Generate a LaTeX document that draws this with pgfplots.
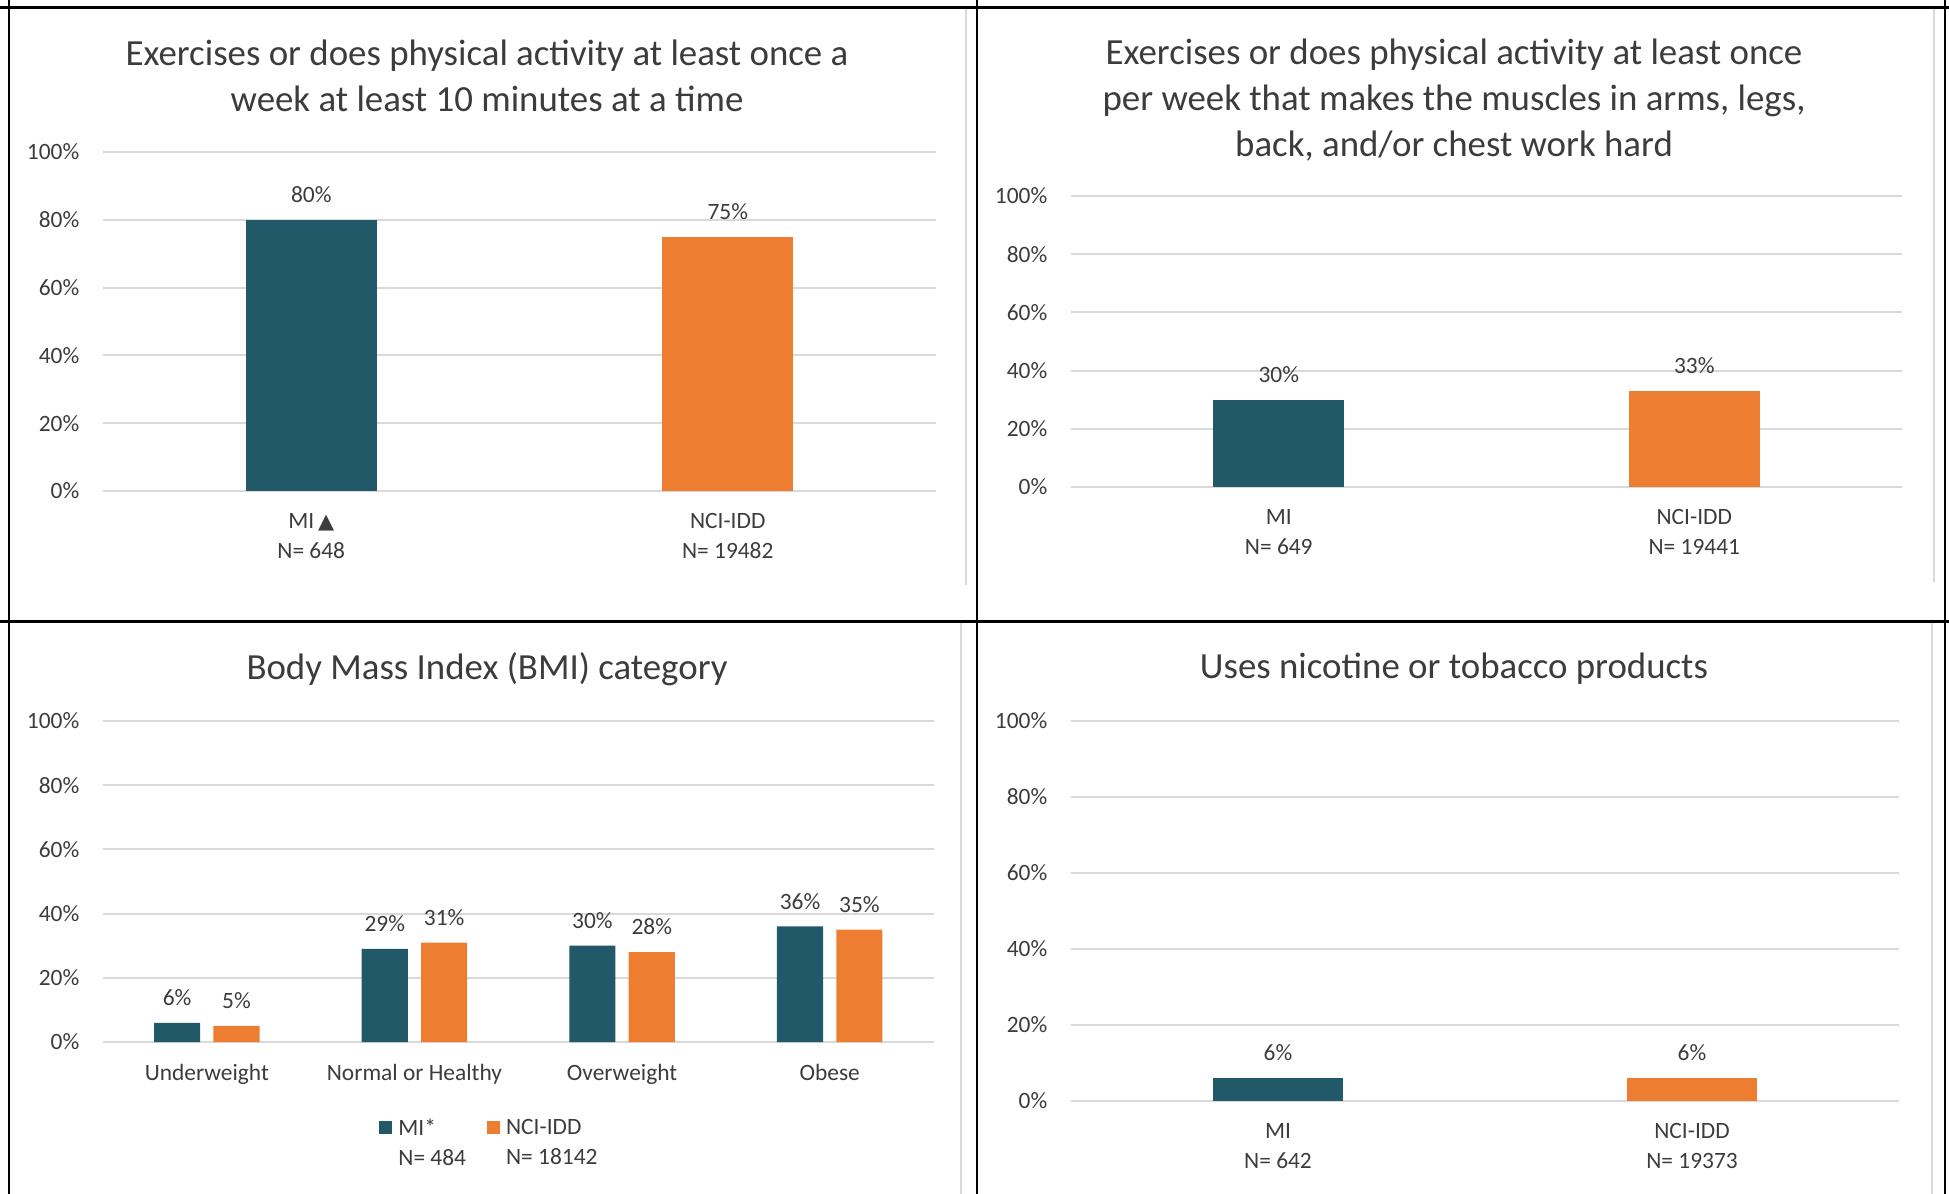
\documentclass[border=0pt]{standalone}
\usepackage{fontspec}
\setmainfont{Carlito}
\newfontfamily\dejavu{DejaVu Sans}
\usepackage{pgfplots}
\pgfplotsset{compat=1.18}
\definecolor{mi}{RGB}{33,89,104}
\definecolor{nci}{RGB}{237,125,49}
\definecolor{gridc}{RGB}{217,217,217}
\definecolor{txt}{RGB}{60,60,60}
\definecolor{frame}{RGB}{217,217,217}
\newcommand{\sm}{\fontsize{23.5}{30}\selectfont}
\newcommand{\ttl}{\fontsize{37}{46}\selectfont}
\pgfplotsset{
  base/.style={
    scale only axis,
    ybar,
    ymin=0, ymax=100,
    ytick={0,20,40,60,80,100},
    yticklabels={0\%,20\%,40\%,60\%,80\%,100\%},
    ymajorgrids,
    grid style={gridc, line width=2bp},
    axis line style={draw=none},
    major tick length=0pt,
    tick style={draw=none},
    /pgf/number format/assume math mode=true,
    yticklabel style={font=\sm, text=txt, inner sep=0pt, xshift=-23.5bp},
    xticklabel style={font=\sm, text=txt, align=center, inner sep=0pt, yshift=-22bp},
    nodes near coords={\pgfmathprintnumber{\pgfplotspointmeta}\%},
    every node near coord/.append style={font=\sm, text=txt, inner sep=0pt, yshift=17bp},
  },
}
\begin{document}
\begin{tikzpicture}
\useasboundingbox (0,0) rectangle (1949bp,-1194bp);
% chart area frames
\draw[frame, line width=1.5bp] (966bp,-9bp) -- (966bp,-585bp);
\draw[frame, line width=1.5bp] (1934bp,-9bp) -- (1934bp,-582bp);
\draw[frame, line width=1.5bp] (961bp,-623bp) -- (961bp,-1194bp);
\draw[frame, line width=1.5bp] (1932bp,-623bp) -- (1932bp,-1194bp);
% table borders
\draw[black, line width=2.5bp] (0bp,-7.5bp) -- (1949bp,-7.5bp);
\draw[black, line width=2.5bp] (0bp,-621.5bp) -- (1949bp,-621.5bp);
\draw[black, line width=2.5bp] (9bp,0bp) -- (9bp,-1194bp);
\draw[black, line width=2.5bp] (977bp,0bp) -- (977bp,-1194bp);
\draw[black, line width=2.5bp] (1945bp,0bp) -- (1945bp,-1194bp);

% ---- top left
\node[font=\ttl, text=txt, align=center] at (487bp,-76bp)
  {Exercises or does physical activity at least once a\\week at least 10 minutes at a time};
\begin{axis}[base, at={(103bp,-491bp)}, anchor=south west,
  width=833bp, height=339bp, xmin=-0.5, xmax=1.5, bar width=0.315,
  xtick={0,1}, xticklabels={MI\,{\dejavu\fontsize{21}{30}\selectfont▲}\\N= 648, NCI-IDD\\N= 19482}]
\addplot[fill=mi, draw=none, bar shift=0] coordinates {(0,80)};
\addplot[fill=nci, draw=none, bar shift=0] coordinates {(1,75)};
\end{axis}

% ---- top right
\node[font=\ttl, text=txt, align=center] at (1454bp,-100bp)
  {Exercises or does physical activity at least once\\per week that makes the muscles in arms, legs,\\back, and/or chest work hard};
\begin{axis}[base, at={(1071bp,-487bp)}, anchor=south west,
  width=831bp, height=291bp, xmin=-0.5, xmax=1.5, bar width=0.315,
  xtick={0,1}, xticklabels={MI\\N= 649, NCI-IDD\\N= 19441}]
\addplot[fill=mi, draw=none, bar shift=0] coordinates {(0,30)};
\addplot[fill=nci, draw=none, bar shift=0] coordinates {(1,33)};
\end{axis}

% ---- bottom left
\node[font=\ttl, text=txt] at (487bp,-669bp) {Body Mass Index (BMI) category};
\begin{axis}[base, at={(103bp,-1042bp)}, anchor=south west,
  width=830.5bp, height=321bp, xmin=-0.5, xmax=3.5, bar width=0.222,
  xtick={0,1,2,3}, xticklabels={Underweight, Normal or Healthy, Overweight, Obese},
  legend columns=2,
  legend style={draw=none, fill=none, font=\sm, text=txt,
    at={(0.329,-0.232)}, anchor=north west,
    nodes={align=left, inner sep=0pt},
    /tikz/every odd column/.append style={column sep=6bp},
    /tikz/every even column/.append style={column sep=21bp}},
  legend cell align=left,
  legend image code/.code={\fill[#1] (0bp,8.5bp) rectangle (13bp,21.5bp);}]
\addplot[fill=mi, draw=none, bar shift=-0.143] coordinates {(0,6) (1,29) (2,30) (3,36)};
\addlegendentry{MI*\\N= 484}
\addplot[fill=nci, draw=none, bar shift=0.143] coordinates {(0,5) (1,31) (2,28) (3,35)};
\addlegendentry{NCI-IDD\\N= 18142}
\end{axis}

% ---- bottom right
\node[font=\ttl, text=txt] at (1454bp,-669bp) {Uses nicotine or tobacco products};
\begin{axis}[base, at={(1071bp,-1101bp)}, anchor=south west,
  width=828bp, height=380bp, xmin=-0.5, xmax=1.5, bar width=0.312,
  xtick={0,1}, xticklabels={MI\\N= 642, NCI-IDD\\N= 19373}]
\addplot[fill=mi, draw=none, bar shift=0] coordinates {(0,6)};
\addplot[fill=nci, draw=none, bar shift=0] coordinates {(1,6)};
\end{axis}
\end{tikzpicture}
\end{document}
